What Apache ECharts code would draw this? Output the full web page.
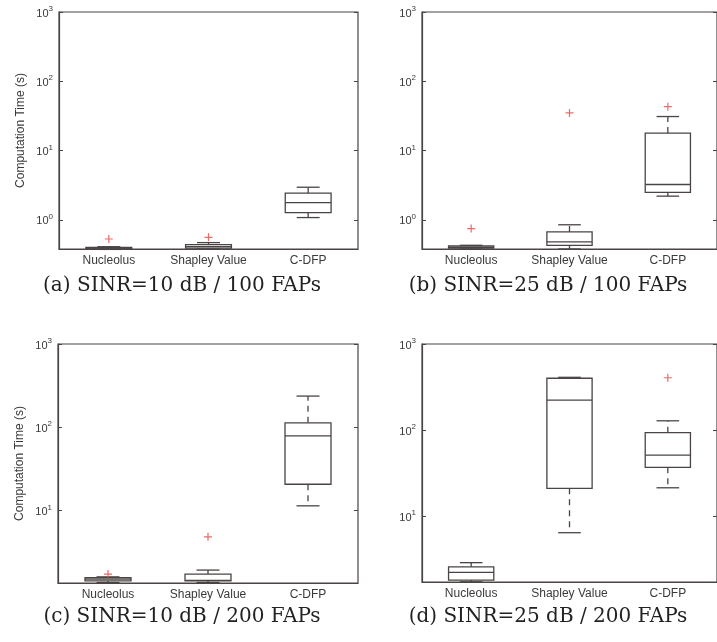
<!DOCTYPE html>
<html>
<head>
<meta charset="utf-8">
<script src="https://cdn.jsdelivr.net/npm/echarts@6/dist/echarts.min.js"></script>
<style>
html,body{margin:0;padding:0;background:#fff;}
#chart{width:717px;height:642px;}
</style>
</head>
<body>
<div id="chart"></div>
<script>
// Categories (x-axis)
const categories = ['Nucleolus', 'Shapley Value', 'C-DFP'];

// Box statistics per category: [min, q1, median, q3, max]
const boxA = [[0.375, 0.38, 0.39, 0.40, 0.41], [0.38, 0.39, 0.41, 0.44, 0.47], [1.08, 1.27, 1.78, 2.43, 2.96]];
const boxB = [[0.38, 0.39, 0.40, 0.42, 0.43], [0.38, 0.43, 0.48, 0.67, 0.85], [2.2, 2.5, 3.24, 17.9, 31]];
const boxC = [[1.37, 1.43, 1.50, 1.56, 1.60], [1.37, 1.43, 1.45, 1.73, 1.93], [11.4, 20.7, 79, 113, 237]];
const boxD = [[1.72, 1.80, 2.21, 2.57, 2.87], [6.4, 21, 223, 400, 410], [21.3, 36.8, 51, 93, 128]];

// Outliers: [categoryIndex, value]
const outA = [[0, 0.53], [1, 0.56]];
const outB = [[0, 0.75], [1, 35], [2, 43]];
const outC = [[0, 1.73], [1, 4.84]];
const outD = [[2, 405]];

// Y-axis ranges (log scale)
const yMin = [0.38, 0.38, 1.35, 1.71];
const yMax = [1000, 1000, 1000, 1000];

// Captions
const captions = ['(a) SINR=10 dB / 100 FAPs', '(b) SINR=25 dB / 100 FAPs', '(c) SINR=10 dB / 200 FAPs', '(d) SINR=25 dB / 200 FAPs'];
const yName = 'Computation Time (s)';

const boxes = [boxA, boxB, boxC, boxD];
const outs = [outA, outB, outC, outD];

const grids = [
  {left: 59, top: 12, width: 299, height: 237},
  {left: 422, top: 12, width: 300, height: 237},
  {left: 58, top: 344, width: 300, height: 239},
  {left: 422, top: 344, width: 300, height: 238}
];
const captionPos = [[182, 286], [548, 286], [182, 617], [548, 617]];
const showName = [true, false, true, false];

const lineColor = '#4a4444';
const textColor = '#3a3a3a';

function renderBox(params, api) {
  const x = api.value(0);
  const pMin = api.coord([x, api.value(1)]);
  const pQ1 = api.coord([x, api.value(2)]);
  const pMed = api.coord([x, api.value(3)]);
  const pQ3 = api.coord([x, api.value(4)]);
  const pMax = api.coord([x, api.value(5)]);
  const band = api.size([1, 1])[0];
  const hw = band * 0.23;
  const cw = band * 0.115;
  const cx = pMed[0];
  const st = {stroke: lineColor, lineWidth: 1.3, fill: null};
  const ds = {stroke: lineColor, lineWidth: 1.3, fill: null, lineDash: [6, 5]};
  return {
    type: 'group',
    children: [
      {type: 'line', shape: {x1: cx, y1: pQ3[1], x2: cx, y2: pMax[1]}, style: ds},
      {type: 'line', shape: {x1: cx, y1: pQ1[1], x2: cx, y2: pMin[1]}, style: ds},
      {type: 'line', shape: {x1: cx - cw, y1: pMax[1], x2: cx + cw, y2: pMax[1]}, style: st},
      {type: 'line', shape: {x1: cx - cw, y1: pMin[1], x2: cx + cw, y2: pMin[1]}, style: st},
      {type: 'rect', shape: {x: cx - hw, y: pQ3[1], width: 2 * hw, height: pQ1[1] - pQ3[1]}, style: st},
      {type: 'line', shape: {x1: cx - hw, y1: pMed[1], x2: cx + hw, y2: pMed[1]}, style: st}
    ]
  };
}

function powLabel(v) {
  const e = Math.log10(v);
  const n = Math.round(e);
  if (Math.abs(e - n) > 1e-6) return '';
  return '{b|10}{s|' + n + '}';
}

const option = {
  animation: false,
  backgroundColor: '#fff',
  grid: grids.map(g => Object.assign({show: true, borderColor: lineColor, borderWidth: 1.2, backgroundColor: '#fff'}, g)),
  xAxis: grids.map((g, i) => ({
    type: 'category',
    gridIndex: i,
    data: categories,
    boundaryGap: true,
    axisLine: {show: true, lineStyle: {color: lineColor, width: 1.2}},
    axisTick: {show: false},
    splitLine: {show: false},
    axisLabel: {interval: 0, color: textColor, fontSize: 12, fontFamily: 'Liberation Sans', margin: 6}
  })),
  yAxis: [].concat(
    grids.map((g, i) => ({
      type: 'log',
      logBase: 10,
      gridIndex: i,
      min: yMin[i],
      max: yMax[i],
      position: 'left',
      name: showName[i] ? yName : '',
      nameLocation: 'middle',
      nameGap: 32,
      nameTextStyle: {color: textColor, fontSize: 12, fontFamily: 'Liberation Sans'},
      axisLine: {show: true, lineStyle: {color: lineColor, width: 1.2}},
      axisTick: {show: true, inside: true, length: 4, lineStyle: {color: lineColor}},
      splitLine: {show: false},
      axisLabel: {
        formatter: powLabel,
        margin: 6,
        color: textColor,
        fontFamily: 'Liberation Sans',
        rich: {
          b: {fontSize: 11, color: textColor, fontFamily: 'Liberation Sans', verticalAlign: 'bottom'},
          s: {fontSize: 8, color: textColor, fontFamily: 'Liberation Sans', verticalAlign: 'bottom', padding: [0, 0, 6, 0]}
        }
      }
    })),
    grids.map((g, i) => ({
      type: 'log',
      logBase: 10,
      gridIndex: i,
      min: yMin[i],
      max: yMax[i],
      position: 'right',
      axisLine: {show: false},
      axisTick: {show: true, inside: true, length: 4, lineStyle: {color: lineColor}},
      splitLine: {show: false},
      axisLabel: {show: false}
    }))
  ),
  series: [].concat(
    boxes.map((b, i) => ({
      type: 'custom',
      xAxisIndex: i,
      yAxisIndex: i,
      renderItem: renderBox,
      encode: {x: 0, y: [1, 2, 3, 4, 5]},
      data: b.map((s, k) => [k].concat(s)),
      z: 3
    })),
    outs.map((o, i) => ({
      type: 'scatter',
      xAxisIndex: i,
      yAxisIndex: i,
      symbol: 'path://M5,0L5,10M0,5L10,5',
      symbolSize: 8,
      itemStyle: {color: 'rgba(0,0,0,0)', borderColor: '#e5473d', borderWidth: 1.2},
      data: o,
      z: 4
    }))
  ),
  graphic: captions.map((c, i) => ({
    type: 'text',
    x: captionPos[i][0],
    y: captionPos[i][1],
    style: {
      text: c,
      fill: '#222',
      font: '20px "DejaVu Serif"',
      textAlign: 'center',
      textVerticalAlign: 'middle',
      align: 'center',
      verticalAlign: 'middle'
    }
  }))
};

const chart = echarts.init(document.getElementById('chart'), null, {renderer: 'canvas'});
chart.setOption(option);
</script>
</body>
</html>
